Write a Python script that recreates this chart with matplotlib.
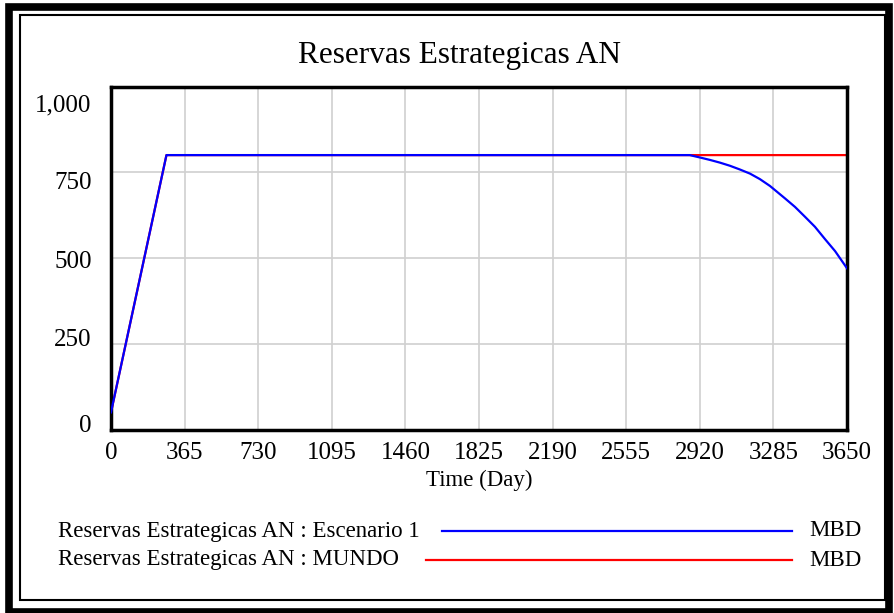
import numpy as np
import matplotlib.pyplot as plt
import matplotlib.transforms as mtransforms
from matplotlib.lines import Line2D
from matplotlib.patches import Rectangle

plt.rcParams['font.family'] = ['Liberation Serif', 'DejaVu Serif']

# Datos (Time en dias, valores en MBD)
t_esc1 = [0, 275, 2870, 2921, 2970, 3020, 3069, 3119, 3169, 3218, 3268,
          3342, 3392, 3442, 3491, 3541, 3591, 3650]
v_esc1 = [50, 800, 800, 793, 786, 778, 769, 758, 746, 730, 710,
          674, 649, 620, 591, 555, 520, 470]
t_mundo = [0, 275, 3650]
v_mundo = [50, 800, 800]

xticks = [0, 365, 730, 1095, 1460, 1825, 2190, 2555, 2920, 3285, 3650]
yticks = [0, 250, 500, 750, 1000]
ytick_labels = ["0", "250", "500", "750", "1,000"]

W, H = 895, 613
fig = plt.figure(figsize=(W / 100, H / 100), dpi=100)

# marco exterior estilo Vensim
fig.patches.append(Rectangle((9 / W, 1 - 612 / H), 880 / W, 605 / H, transform=fig.transFigure,
                             fill=False, edgecolor='black', linewidth=5.5))
fig.patches.append(Rectangle((20 / W, 1 - 600 / H), 865 / W, 585 / H, transform=fig.transFigure,
                             fill=False, edgecolor='black', linewidth=1.5))

ax = fig.add_axes([111 / W, 1 - 429.5 / H, 736 / W, 343 / H])
ax.plot(t_esc1, v_esc1, color='#0000ff', linewidth=1.6, zorder=3)
ax.plot(t_mundo, v_mundo, color='#ff0000', linewidth=1.6, zorder=2)

ax.set_xlim(0, 3650)
ax.set_ylim(0, 1000)
ax.set_xticks(xticks)
ax.set_yticks(yticks)
ax.set_yticklabels(ytick_labels)
ax.tick_params(length=0, labelsize=18)
ax.tick_params(axis='y', pad=14)
ax.tick_params(axis='x', pad=9)
ax.grid(True, color='#d0d0d0', linewidth=1.2)
for s in ax.spines.values():
    s.set_linewidth(2.5)
ax.set_xlabel("Time (Day)", fontsize=16.5, labelpad=4)

# Vensim reparte las etiquetas del eje y un poco distinto de la rejilla
desplaz = [6.5, 6, -2, -8, -16]  # px, positivo = hacia arriba
for lab, d in zip(ax.get_yticklabels(), desplaz):
    lab.set_transform(lab.get_transform() + mtransforms.ScaledTranslation(0, d / 100, fig.dpi_scale_trans))

fig.text(460 / W, 1 - 56 / H, "Reservas Estrategicas AN", fontsize=22.5, ha='center', va='center')

# leyenda
fig.text(58 / W, 1 - 531 / H, "Reservas Estrategicas AN : Escenario 1", fontsize=16.5, va='center')
fig.text(58 / W, 1 - 560 / H, "Reservas Estrategicas AN : MUNDO", fontsize=16.5, va='center')
fig.text(862 / W, 1 - 531 / H, "MBD", fontsize=16.5, va='center', ha='right')
fig.text(862 / W, 1 - 560 / H, "MBD", fontsize=16.5, va='center', ha='right')
fig.add_artist(Line2D([442 / W, 792 / W], [1 - 531 / H, 1 - 531 / H], color='#0000ff', linewidth=1.6))
fig.add_artist(Line2D([426 / W, 792 / W], [1 - 560 / H, 1 - 560 / H], color='#ff0000', linewidth=1.6))

fig.savefig("out.png", dpi=100)
